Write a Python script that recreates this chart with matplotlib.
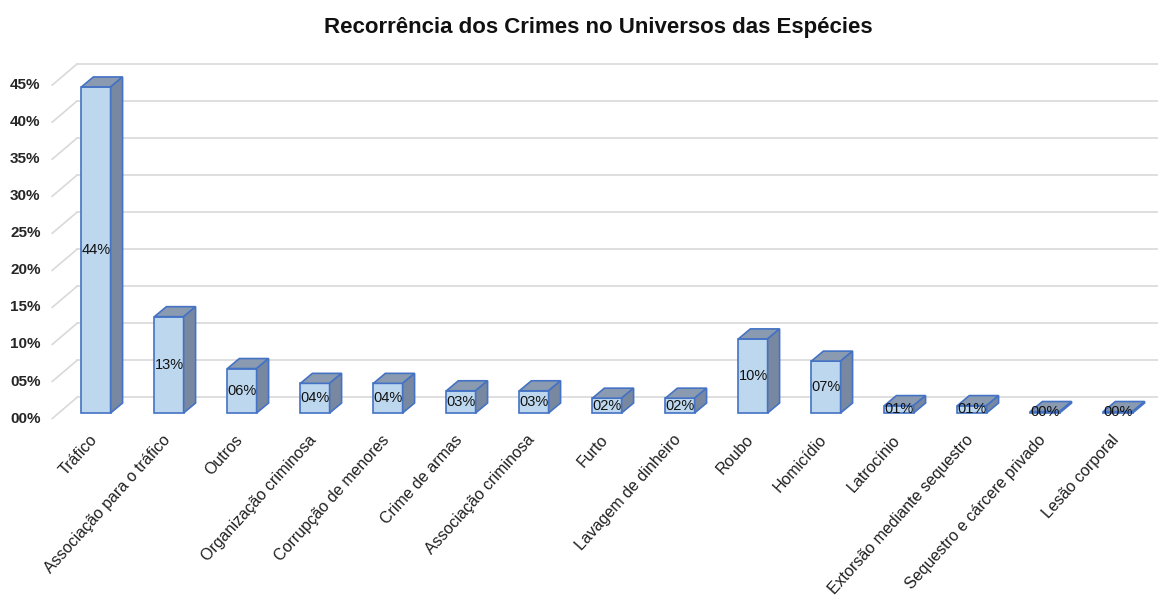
import matplotlib
matplotlib.use("Agg")
import matplotlib.pyplot as plt
from matplotlib.patches import Polygon

plt.rcParams["font.family"] = ["Liberation Sans", "DejaVu Sans"]

# crime categories and their share of cases (%)
categories = [
    "Tráfico", "Associação para o tráfico", "Outros", "Organização criminosa",
    "Corrupção de menores", "Crime de armas", "Associação criminosa", "Furto",
    "Lavagem de dinheiro", "Roubo", "Homicídio", "Latrocínio",
    "Extorsão mediante sequestro", "Sequestro e cárcere privado", "Lesão corporal",
]
shares = [44, 13, 6, 4, 4, 3, 3, 2, 2, 10, 7, 1, 1, 0.2, 0.2]
y_ticks = [0, 5, 10, 15, 20, 25, 30, 35, 40, 45]
y_tick_labels = ["00%", "05%", "10%", "15%", "20%", "25%", "30%", "35%", "40%", "45%"]

FRONT = "#BDD7EE"
EDGE = "#4472C4"
TOP = "#8A9BB1"
SIDE = "#7888A0"
GRID = "#D9D9D9"

W, H = 1160, 595
fig = plt.figure(figsize=(W / 100, H / 100), dpi=100)

# axes placed so one category = 73 px and 1 % = 7.41 px
x0, x1 = -1.0, 14.55
y0, y1 = -1.5, 48.0
left_px, right_px = 96 + x0 * 73, 96 + x1 * 73
bot_px, top_px = 413 - y0 * 7.41, 413 - y1 * 7.41
ax = fig.add_axes([left_px / W, (H - bot_px) / H,
                   (right_px - left_px) / W, (bot_px - top_px) / H])
ax.set_xlim(x0, x1)
ax.set_ylim(y0, y1)
ax.axis("off")

# back wall with slanted connectors to the value labels
wall_x, wall_dy = -0.26, 2.1
for v, lab in zip(y_ticks, y_tick_labels):
    ax.plot([-0.60, wall_x], [v - 0.75, v + wall_dy], color=GRID, lw=1.2, zorder=1)
    ax.plot([wall_x, x1], [v + wall_dy, v + wall_dy], color=GRID, lw=1.2, zorder=1)
    ax.text(-0.76, v - 0.75, lab, ha="right", va="center", fontsize=11,
            fontweight="bold", color="#262626")

# pseudo-3D columns: front face, top and side
bw, dx, dy = 0.40, 0.164, 1.35
xs = list(range(len(categories)))
ax.bar(xs, shares, width=bw, color=FRONT, edgecolor=EDGE, linewidth=1.2, zorder=3)
for x, h in zip(xs, shares):
    l, r = x - bw / 2, x + bw / 2
    ax.add_patch(Polygon([(l, h), (r, h), (r + dx, h + dy), (l + dx, h + dy)],
                         closed=True, facecolor=TOP, edgecolor=EDGE, lw=1.2, zorder=3))
    ax.add_patch(Polygon([(r, 0), (r + dx, dy), (r + dx, h + dy), (r, h)],
                         closed=True, facecolor=SIDE, edgecolor=EDGE, lw=1.2, zorder=3))
    ax.text(x, h / 2, f"{h:02.0f}%", ha="center", va="center", fontsize=10.5,
            color="#111111", zorder=4)

for x, name in zip(xs, categories):
    ax.text(x - 0.1, -2.6, name, rotation=48, rotation_mode="anchor",
            ha="right", va="top", fontsize=11.5, color="#1f1f1f")

fig.text(598 / W, 1 - 27 / H, "Recorrência dos Crimes no Universos das Espécies",
         ha="center", va="center", fontsize=16, fontweight="bold", color="#111111")

fig.savefig("out.png", dpi=100, facecolor="white")
